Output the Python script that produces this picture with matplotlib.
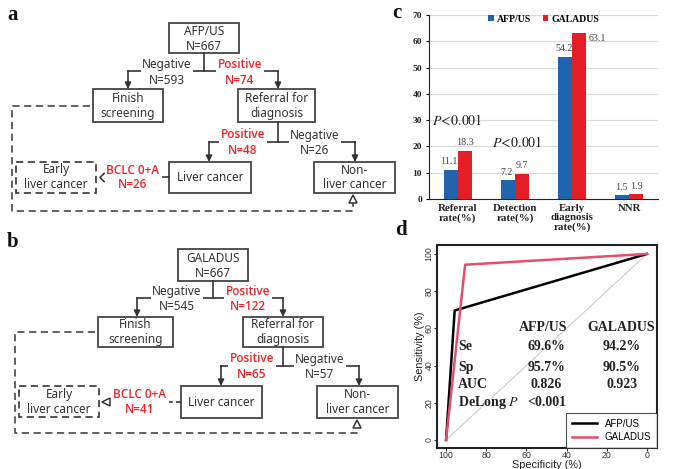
import matplotlib
matplotlib.use('Agg')
import matplotlib.pyplot as plt
import numpy as np
from matplotlib.patches import Rectangle

plt.rcParams['mathtext.fontset'] = 'stix'

# ---------------- data ----------------
bar_categories = ["Referral\nrate(%)", "Detection\nrate(%)", "Early\ndiagnosis\nrate(%)", "NNR"]
afp_values = [11.1, 7.2, 54.2, 1.5]
galadus_values = [18.3, 9.7, 63.1, 1.9]
series_names = ["AFP/US", "GALADUS"]
p_text = [r"$\mathit{P}\!<\!\mathrm{0.001}$", r"$\mathit{P}\!<\!\mathrm{0.001}$"]
p_pos_x = [0.0, 1.05]
p_pos_y = [30.0, 21.7]

roc_afp_spec = [100, 95.7, 0]
roc_afp_sens = [0, 69.6, 100]
roc_gal_spec = [100, 90.5, 0]
roc_gal_sens = [0, 94.2, 100]
roc_rows = ["Se", "Sp", "AUC", "DeLong $P$"]
roc_afp_col = ["69.6%", "95.7%", "0.826", "<0.001"]
roc_gal_col = ["94.2%", "90.5%", "0.923", ""]

flow_a_texts = ["AFP/US\nN=667", "Negative", "N=593", "Positive", "N=74",
                "Positive", "N=48", "Negative", "N=26", "BCLC 0+A\nN=26"]
flow_b_texts = ["GALADUS\nN=667", "Negative", "N=545", "Positive", "N=122",
                "Positive", "N=65", "Negative", "N=57", "BCLC 0+A\nN=41"]

BLUE = '#1f64ad'
RED = '#e41e26'
PINK = '#e0506e'
GRAY = '#333333'
TRED = '#e8262c'

fig = plt.figure(figsize=(6.85, 4.69), dpi=100)
fa = fig.add_axes([0, 0, 1, 1])
fa.set_xlim(0, 685)
fa.set_ylim(469, 0)
fa.axis('off')
fa.patch.set_alpha(0)

FS = 8.5


def rect(b, dashed=False):
    x0, y0, x1, y1 = b
    fa.add_patch(Rectangle((x0, y0), x1 - x0, y1 - y0, fill=False, ec='#444444',
                           lw=1.3, ls=(0, (4, 2.5)) if dashed else '-', zorder=2))


def arrow(x, y0, y1):
    fa.annotate('', xy=(x, y1), xytext=(x, y0),
                arrowprops=dict(arrowstyle='-|>', color='#333333', lw=1.2,
                                mutation_scale=9, shrinkA=0, shrinkB=0), zorder=2)


def txt(x, y, s, red=False, white=False):
    kw = dict(ha='center', va='center', fontsize=FS,
              family='Open Sans' if red else 'Noto Sans',
              color=TRED if red else GRAY, fontweight='semibold' if red else 'normal',
              linespacing=1.2, zorder=4)
    if white:
        kw['bbox'] = dict(boxstyle='square,pad=0.12', fc='white', ec='none')
    fa.text(x, y, s, **kw)


def flow(L, T, chevron_open):
    rect(L['top'])
    tx = (L['top'][0] + L['top'][2]) / 2
    txt(tx, (L['top'][1] + L['top'][3]) / 2 + 1, T[0])
    fa.plot([tx, tx], [L['top'][3], L['s1']], color='#333333', lw=1.2, zorder=2)
    fa.plot([L['a1'][0], L['a1'][1]], [L['s1'], L['s1']], color='#333333', lw=1.2, zorder=2)
    arrow(L['a1'][0], L['s1'], L['finish'][1])
    arrow(L['a1'][1], L['s1'], L['finish'][1])
    txt(L['n1x'], L['s1'] - 6.5, T[1], white=True)
    txt(L['n1x'], L['s1'] + 9, T[2])
    txt(L['p1x'], L['s1'] - 6.5, T[3], red=True, white=True)
    txt(L['p1x'], L['s1'] + 9, T[4], red=True)

    rect(L['finish'])
    txt((L['finish'][0] + L['finish'][2]) / 2, (L['finish'][1] + L['finish'][3]) / 2, "Finish\nscreening")
    rect(L['ref'])
    rx = L['a1'][1]
    txt((L['ref'][0] + L['ref'][2]) / 2, (L['ref'][1] + L['ref'][3]) / 2, "Referral for\ndiagnosis")
    fa.plot([rx, rx], [L['ref'][3], L['s2']], color='#333333', lw=1.2, zorder=2)
    fa.plot([L['a2'][0], L['a2'][1]], [L['s2'], L['s2']], color='#333333', lw=1.2, zorder=2)
    arrow(L['a2'][0], L['s2'], L['liver'][1])
    arrow(L['a2'][1], L['s2'], L['liver'][1])
    txt(L['p2x'], L['s2'] - 7, T[5], red=True, white=True)
    txt(L['p2x'], L['s2'] + 8.5, T[6], red=True)
    txt(L['n2x'], L['s2'] - 7, T[7], white=True)
    txt(L['n2x'], L['s2'] + 8.5, T[8])

    rect(L['liver'])
    ly = (L['liver'][1] + L['liver'][3]) / 2
    txt((L['liver'][0] + L['liver'][2]) / 2, ly, "Liver cancer")
    rect(L['non'])
    txt((L['non'][0] + L['non'][2]) / 2, ly, "Non-\nliver cancer")
    rect(L['early'], dashed=True)
    txt((L['early'][0] + L['early'][2]) / 2, ly, "Early\nliver cancer")
    txt(L['bx'], ly, T[9], red=True)
    fa.plot([L['liver'][0], L['cend']], [ly, ly], color='#333333', lw=1.2,
            ls='-' if chevron_open else (0, (3, 2)), zorder=2)
    hx = L['hx']
    if chevron_open:
        fa.plot([hx + 4, hx, hx + 4], [ly - 4, ly, ly + 4], color='#333333', lw=1.2, zorder=2)
    else:
        fa.plot([hx], [ly], marker='<', ms=6, mfc='white', mec='#333333', mew=1.1, zorder=3)
    px, py = zip(*L['dash'])
    fa.plot(px, py, color='#555555', lw=1.3, ls=(0, (4, 2.5)), zorder=2)
    fa.plot([px[-1]], [py[-1] - 1], marker='^', ms=6, mfc='white', mec='#333333', mew=1.1, zorder=3)


LA = dict(top=(169, 23, 239, 53), s1=71, a1=(128, 278), n1x=167, p1x=240,
          finish=(93, 89, 163, 122), ref=(238, 89, 315, 122), s2=142, a2=(209, 355),
          p2x=243, n2x=315, liver=(169, 162, 251, 193), non=(314, 162, 395, 193),
          early=(16, 162, 96, 193), bx=133, cend=163, hx=100,
          dash=[(90, 106), (12, 106), (12, 211), (353, 211), (353, 200)])
LB = dict(top=(178, 249, 248, 281), s1=298, a1=(137, 283), n1x=177, p1x=248,
          finish=(98, 317, 173, 347), ref=(243, 317, 323, 347), s2=366, a2=(221, 359),
          p2x=252, n2x=320, liver=(181, 386, 262, 418), non=(317, 386, 398, 418),
          early=(19, 386, 99, 417), bx=140, cend=169, hx=106,
          dash=[(95, 332), (15, 332), (15, 433), (357, 433), (357, 425)])
flow(LA, flow_a_texts, True)
flow(LB, flow_b_texts, False)

for lx, ly, s in [(13, 15, 'a'), (13, 242, 'b'), (397, 13, 'c'), (401, 230, 'd')]:
    fa.text(lx, ly, s, ha='center', va='center', fontsize=15, fontweight='bold',
            family='Liberation Serif', color='#111111')

# ---------------- panel c ----------------
ax = fig.add_axes([429 / 685, 1 - 199 / 469, 229 / 685, 184 / 469])
x = np.arange(len(bar_categories))
w = 0.245
ax.bar(x - w / 2, afp_values, w, color=BLUE, label=series_names[0], zorder=3)
ax.bar(x + w / 2, galadus_values, w, color=RED, label=series_names[1], zorder=3)
ax.set_xlim(-0.5, 3.5)
ax.set_ylim(0, 70)
ax.set_yticks(np.arange(0, 71, 10))
ax.yaxis.grid(True, color='#d9d9d9', lw=0.8, zorder=0)
ax.set_axisbelow(True)
for s in ['top', 'right']:
    ax.spines[s].set_visible(False)
ax.spines['left'].set_color('#222222')
ax.spines['bottom'].set_color('#222222')
ax.set_xticks(x)
ax.set_xticklabels(bar_categories)
ax.tick_params(axis='x', length=0, pad=3.5)
ax.tick_params(axis='y', length=2, pad=3)
for lab in ax.get_xticklabels():
    lab.set_family('Liberation Serif')
    lab.set_fontweight('bold')
    lab.set_fontsize(7.8)
    lab.set_color('#222222')
    lab.set_linespacing(1.05)
for lab in ax.get_yticklabels():
    lab.set_family('Liberation Serif')
    lab.set_fontweight('bold')
    lab.set_fontsize(6.8)
    lab.set_color('#222222')

VF = dict(fontsize=7.2, family='Liberation Serif', color='#444444')
for i, v in enumerate(afp_values):
    ax.annotate(f"{v}", (x[i] - w / 2, v), xytext=(-1, 2.5), textcoords='offset points',
                ha='center', va='bottom', **VF)
for i, v in enumerate(galadus_values):
    if i == 2:
        ax.annotate(f"{v}", (x[i] + w, v), xytext=(2, -4), textcoords='offset points',
                    ha='left', va='center', **VF)
    else:
        ax.annotate(f"{v}", (x[i] + w / 2, v), xytext=(0, 2.5), textcoords='offset points',
                    ha='center', va='bottom', **VF)
for s, px_, py_ in zip(p_text, p_pos_x, p_pos_y):
    ax.text(px_, py_, s, ha='center', va='center', fontsize=10, color='#222222')
ax.legend(loc='upper center', bbox_to_anchor=(0.5, 1.05), ncol=2, frameon=False,
          handlelength=0.6, handleheight=0.6, handletextpad=0.3, columnspacing=1.2,
          prop=dict(family='Liberation Serif', weight='bold', size=7))

# ---------------- panel d ----------------
ad = fig.add_axes([437 / 685, 1 - 448 / 469, 220 / 685, 203 / 469])
ad.plot([100, 0], [0, 100], color='#cccccc', lw=0.8, zorder=1)
ad.plot(roc_afp_spec, roc_afp_sens, color='black', lw=1.8, label=series_names[0], zorder=3)
ad.plot(roc_gal_spec, roc_gal_sens, color=PINK, lw=1.8, label=series_names[1], zorder=3)
ad.set_xlim(104.5, -5)
ad.set_ylim(-4.3, 104.8)
ad.set_xticks([100, 80, 60, 40, 20, 0])
ad.set_yticks([0, 20, 40, 60, 80, 100])
for s in ad.spines.values():
    s.set_linewidth(1.5)
    s.set_color('#222222')
ad.tick_params(length=2, width=0.8, pad=0.5, labelsize=6.3, colors='#333333')
for lab in ad.get_yticklabels():
    lab.set_rotation(90)
    lab.set_va('center')
for lab in ad.get_xticklabels() + ad.get_yticklabels():
    lab.set_family('Liberation Sans')
ad.set_xlabel('Specificity (%)', fontsize=7.8, family='Liberation Sans', labelpad=0, color='#222222')
ad.set_ylabel('Sensitivity (%)', fontsize=7.8, family='Liberation Sans', labelpad=0, color='#222222')
lg = ad.legend(loc='lower right', borderaxespad=0, fancybox=False, handlelength=2.6,
               prop=dict(family='Liberation Sans', size=7), borderpad=0.6, labelspacing=0.35)
lg.get_frame().set_edgecolor('#222222')
lg.get_frame().set_linewidth(0.8)

tk = dict(fontsize=10, family='Liberation Serif', fontweight='bold', color='#222222', va='center')
ad.text(51.7, 60.2, series_names[0], ha='center', **tk)
ad.text(12.9, 60.2, series_names[1], ha='center', **tk)
row_y = [50, 39.2, 29.6, 19.9]
for r, a, g, yy in zip(roc_rows, roc_afp_col, roc_gal_col, row_y):
    ad.text(94, yy, r, ha='left', **tk)
    ad.text(50, yy, a, ha='center', **tk)
    ad.text(12.4, yy, g, ha='center', **tk)

fig.savefig('out.png', dpi=100)
